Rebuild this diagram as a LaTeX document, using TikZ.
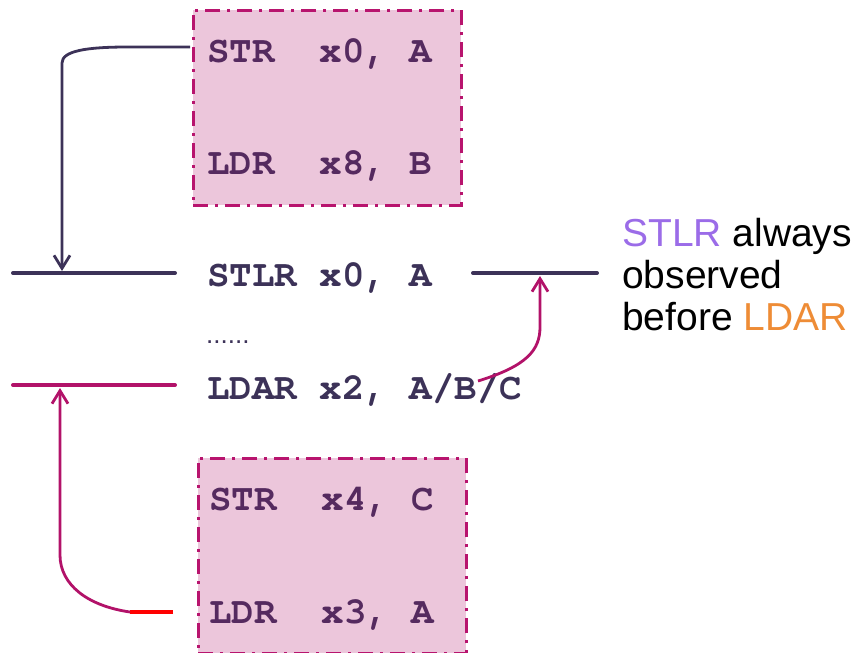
\documentclass[tikz,border=0pt]{standalone}
\usepackage{fontspec}
\setmainfont{Liberation Sans}
\setmonofont{TeX Gyre Cursor}
\usetikzlibrary{arrows.meta}

\definecolor{boxfill}{RGB}{236,198,219}
\definecolor{boxedge}{RGB}{184,20,110}
\definecolor{ink}{RGB}{60,50,88}
\definecolor{boxink}{RGB}{85,42,95}
\definecolor{acq}{RGB}{178,18,105}
\definecolor{stlrc}{RGB}{155,108,232}
\definecolor{ldarc}{RGB}{238,140,54}

\tikzset{
  codebox/.style={draw=boxedge, fill=boxfill, line width=2.6pt,
    dash pattern=on 15pt off 7pt on 3pt off 7pt,
    minimum width=268pt, minimum height=195pt, anchor=north west, inner sep=0pt},
  code/.style={font=\ttfamily\bfseries\fontsize{37.5}{40}\selectfont,
    anchor=base west, inner sep=0pt},
  note/.style={font=\fontsize{39}{42}\selectfont, anchor=base west, inner sep=0pt, text=black},
  barrier/.style={line width=4pt, line cap=round},
  conn/.style={line width=2.8pt, -{Straight Barb[length=13pt,width=16pt,line width=2.8pt]}},
}

\begin{document}
\begin{tikzpicture}[x=1pt,y=-1pt]
\useasboundingbox (0,0) rectangle (857,653);

% plain accesses grouped before the release
\node[codebox] (boxA) at (192,9) {};
\node[code, text=boxink] (strA) at (207,62) {STR\ \ x0, A};
\node[code, text=boxink] (ldrB) at (207,174) {LDR\ \ x8, B};

% plain accesses grouped after the acquire
\node[codebox] (boxB) at (197,457) {};
\node[code, text=boxink] (strC) at (209,510) {STR\ \ x4, C};
\node[code, text=boxink] (ldrA) at (209,623) {LDR\ \ x3, A};

% release / acquire instructions
\node[code, text=ink] (stlr) at (207,286) {STLR x0, A};
\node[font=\fontsize{26}{26}\selectfont, text=ink, anchor=base west, inner sep=0pt] (gap) at (206,343) {......};
\node[code, text=ink] (ldar) at (207,399) {LDAR x2, A/B/C};

% barrier lines
\coordinate (relL1) at (13,273);
\coordinate (relL2) at (175,273);
\coordinate (relR1) at (473,273);
\coordinate (relR2) at (597,273);
\coordinate (acqL1) at (13,385);
\coordinate (acqL2) at (175,385);
\draw[barrier, ink] (relL1) -- (relL2);
\draw[barrier, ink] (relR1) -- (relR2);
\draw[barrier, acq] (acqL1) -- (acqL2);

% earlier store cannot pass the release
\coordinate (srcA) at (190,47);
\coordinate (tipA) at (62,271);
\draw[conn, ink] (srcA) -- (128,47) .. controls (86,47) and (62,51) .. (62,63) -- (tipA);

% later load cannot pass the acquire
\coordinate (srcB) at (173,612);
\coordinate (bendB) at (130,612);
\coordinate (tipB) at (60,388);
\draw[line width=3.5pt, red] (srcB) -- (bendB);
\draw[conn, acq] (bendB) .. controls (88,606) and (60,585) .. (60,555) -- (tipB);

% acquire cannot pass the release
\coordinate (srcC) at (478,381);
\coordinate (tipC) at (540,276);
\draw[conn, acq] (srcC) .. controls (527,366) and (540,350) .. (540,327) -- (tipC);

% explanation
\node[note] (note1) at (622,246) {\textcolor{stlrc}{STLR} always};
\node[note] (note2) at (622,288) {observed};
\node[note] (note3) at (622,330) {before \textcolor{ldarc}{LDAR}};
\end{tikzpicture}
\end{document}
